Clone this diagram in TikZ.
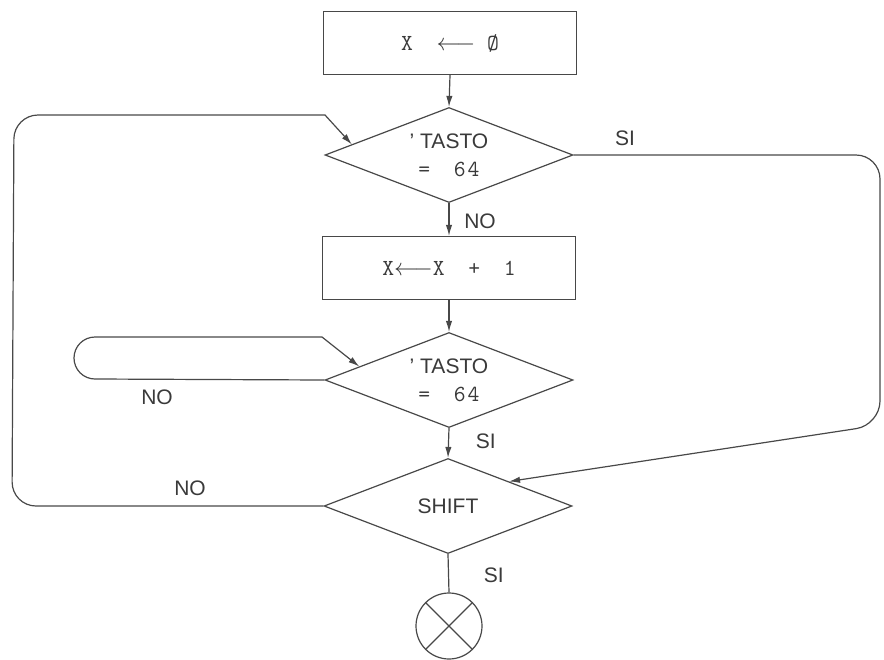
\documentclass[tikz,border=0pt]{standalone}
\usepackage{fontspec}
\setsansfont{Liberation Sans}
\usetikzlibrary{arrows.meta,shapes.geometric,calc}
\definecolor{FcInk}{RGB}{72,72,72}
\definecolor{FcText}{RGB}{58,58,58}
\tikzset{
  fc/box/.style={
    draw=FcInk,
    line width=0.6pt,
    fill=white,
    align=center,
    text=FcText,
    minimum width=126.5pt,
    minimum height=31.5pt,
    inner sep=0pt,
    font=\ttfamily\fontsize{11.5}{13}\selectfont
  },
  fc/test/.style={
    diamond,
    aspect=2.6,
    draw=FcInk,
    line width=0.6pt,
    fill=white,
    align=center,
    text=FcText,
    minimum width=124pt,
    minimum height=47.5pt,
    inner sep=0pt,
    font=\sffamily\fontsize{10.5}{12.5}\selectfont
  },
  fc/stop/.style={circle, draw=FcInk, line width=0.6pt, fill=white, minimum size=33pt, inner sep=0pt},
  fc/ink/.style={draw=FcInk, line width=0.6pt},
  fc/arrow/.style={-{Latex[length=5.5pt,width=3.2pt]}, line width=0.6pt, draw=FcInk},
  fc/label/.style={font=\sffamily\fontsize{10.5}{12.5}\selectfont, text=FcText}
}
\newcommand{\fcmono}{\ttfamily\fontsize{11.5}{13}\selectfont}
\begin{document}
\begin{tikzpicture}[x=0.5pt,y=-0.5pt]
  \useasboundingbox (0,0) rectangle (884,659);
  \node[fc/box] (init) at (450,43) {X\ \ $\longleftarrow$\ Ø};
  \node[fc/test] (tasto1) at (449,155) {' TASTO\\[1.5pt] {\fcmono =\ \ 6\kern1pt4}};
  \node[fc/box] (incr) at (449,268) {X$\longleftarrow$X\ \ +\ \ 1};
  \node[fc/test] (tasto2) at (449,380) {' TASTO\\[1.5pt] {\fcmono =\ \ 6\kern1pt4}};
  \node[fc/test] (shift) at (448,506) {SHIFT};
  \node[fc/stop] (stop) at (449,626) {};
  \draw[fc/ink] (stop.north west) -- (stop.south east) (stop.north east) -- (stop.south west);

  \draw[fc/arrow] (init.south) -- (tasto1.north);
  \draw[fc/arrow] (tasto1.south) -- node[fc/label, anchor=west, xshift=4pt, pos=0.55] {NO} (incr.north);
  \draw[fc/arrow] (incr.south) -- (tasto2.north);
  \draw[fc/arrow] (tasto2.south) -- node[fc/label, anchor=west, xshift=10pt, pos=0.45] {SI} (shift.north);
  \draw[fc/ink] (shift.south) -- node[fc/label, anchor=west, xshift=14pt, pos=0.55] {SI} (stop.north);

  % loops back to the tests
  \draw[fc/arrow] (tasto2.west) -- (95,379) arc[start angle=90, end angle=270, radius=21]
    -- (322,337) -- ($(tasto2.west)!0.28!(tasto2.north)$);
  \node[fc/label] (no2) at (157,397) {NO};
  \draw[fc/arrow] (shift.west) [rounded corners=12] -- (12,506) -- (14,115)
    [sharp corners] -- (325,115) -- ($(tasto1.west)!0.22!(tasto1.north)$);
  \node[fc/label] (no3) at (190,488) {NO};
  \draw[fc/arrow] (tasto1.east) [rounded corners=12] -- (880,155) -- (880,425)
    [sharp corners] -- ($(shift.north)!0.49!(shift.east)$);
  \node[fc/label] (si1) at (625,138) {SI};
\end{tikzpicture}
\end{document}
